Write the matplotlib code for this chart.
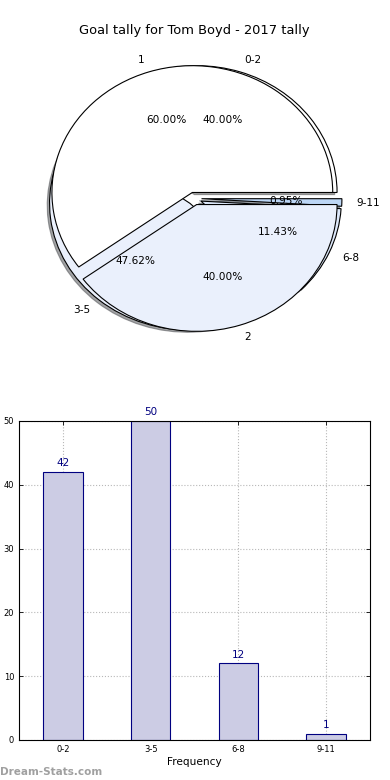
import matplotlib
matplotlib.use("Agg")
import matplotlib.pyplot as plt
import numpy as np

# data
goal_bins = ["0-2", "3-5", "6-8", "9-11"]
goal_freq = [42, 50, 12, 1]
pie2_labels = ["1", "2"]
pie2_share = [60, 40]

title = "Goal tally for Tom Boyd - 2017 tally"

plt.rcParams['font.family'] = ['DejaVu Sans']

fig = plt.figure(figsize=(3.9, 7.8), dpi=100)

# pie chart (two pies drawn on one axes)
ax1 = fig.add_axes([0.0487, 0.5423, 0.9, 0.4064])
w2, t2, a2 = ax1.pie(goal_freq, labels=goal_bins, autopct='%.2f%%',
                     explode=[0.05, 0.05, 0.05, 0.05],
                     shadow={'ox': -0.012, 'oy': -0.012, 'alpha': 0.5},
                     colors=['white', '#eaf0fc', '#dde8fa', '#bcd6f5'],
                     wedgeprops={'edgecolor': 'black', 'linewidth': 0.8},
                     textprops={'fontsize': 7.6})
w1, t1, a1 = ax1.pie(pie2_share, labels=pie2_labels, autopct='%.2f%%',
                     explode=[0.05, 0.05],
                     colors=['white', '#eaf0fc'],
                     wedgeprops={'edgecolor': 'black', 'linewidth': 0.8},
                     textprops={'fontsize': 7.6})
ax1.set_aspect('auto')
ax1.set_xlim(-1.25, 1.25)
ax1.set_ylim(-1.25, 1.25)
ax1.set_title(title, fontsize=9.4, pad=4)

# bar chart
ax2 = fig.add_axes([0.0487, 0.0513, 0.9, 0.409])
x = np.arange(len(goal_bins))
bars = ax2.bar(x, goal_freq, width=0.45, color='#ccccE4', edgecolor='navy', linewidth=0.8)
for b, v in zip(bars, goal_freq):
    ax2.text(b.get_x() + b.get_width() / 2, v + 0.6, str(v), ha='center', va='bottom',
             color='navy', fontsize=7.5)
ax2.set_xlim(-0.5, 3.5)
ax2.set_ylim(0, 50)
ax2.set_xticks(x)
ax2.set_xticklabels(goal_bins)
ax2.set_yticks(range(0, 51, 10))
ax2.tick_params(direction='in', labelsize=6, top=True, right=True, length=3, width=0.6)
ax2.grid(True, linestyle=':', color='#b8b8b8', linewidth=0.8)
ax2.set_axisbelow(True)
ax2.set_xlabel("Frequency", fontsize=7.6, labelpad=2)

fig.text(0.0, 0.006, "Dream-Stats.com", fontsize=7.5, color='#a0a0a0', fontweight='bold')

fig.savefig("out.png", dpi=100)
